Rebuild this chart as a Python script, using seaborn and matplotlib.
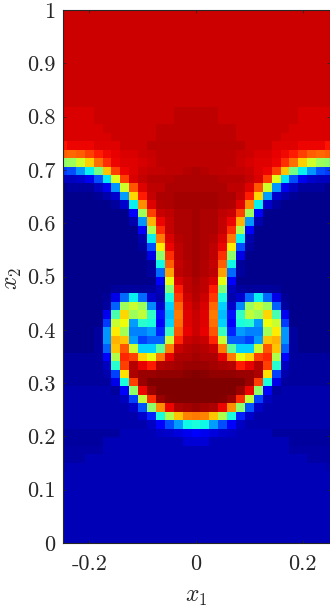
"""
Rayleigh-Taylor density field, coarse grid, jet colours.
"""
import numpy as np
import matplotlib
matplotlib.use('Agg')
import matplotlib.pyplot as plt
import seaborn as sns

D = 1.5   # deep blue far field
T = 93.2  # top layer
BL = 4.9  # bottom layer blue

# left half of the field (centre column last), rows from x2=1 down to x2=0, jet scale 0-100
upper_rows = [[T] * 16] * 12 + [
    [92, 92, 92, 92, 93, 93, 93, 93, 93, 93, 93, 93, 93, 94.5, 94.5, 94.5],
    [92, 92, 92, 92, 93, 93, 93, 93, 93, 93, 93, 93, 93, 94.5, 94.5, 94.5],
    [92, 92, 92, 92, 92, 93, 93, 93, 93, 93, 93, 94.5, 94.5, 94.5, 94.5, 94.5],
    [92, 92, 92, 92, 92, 92, 93, 93, 93, 93, 93, 94.5, 94.5, 94.5, 94.5, 94.5],
    [89, 90.5, 90.5, 90.5, 91.5, 91.5, 91.5, 93, 93, 93, 94.8, 94.8, 94.8, 94.8, 94.8, 94.8],
    [81, 80, 81, 84, 88, 90, 91, 92, 92, 93, 93.5, 94.5, 94.5, 94.5, 94.5, 94.5],
    [52, 54, 60, 69, 79, 86, 90.5, 91.5, 91.5, 92.5, 93, 94.5, 94.5, 94.5, 94.5, 94.5],
    [18, 20, 27, 36, 49, 70, 84, 90.5, 91.5, 93, 94, 94, 94.5, 94.5, 95, 96],
    [5.6, 5.6, 7, 10, 20, 35, 62, 84, 92, 94, 95, 95, 95, 96, 96, 96],
    [D, 2.8, 2.8, 2.8, 5.6, 10, 27, 60, 82, 91.5, 94.5, 94.5, 96, 96, 96, 96],
    [D, D, D, D, 2, 4.2, 7, 28, 68, 88, 94, 96, 96, 96.5, 96.5, 96.5],
    [D, D, D, D, D, D, 3, 7, 36, 76, 91.5, 95.5, 96, 96.5, 96.5, 96.5],
    [D, D, D, D, D, D, D, D, 11, 54, 84, 93.5, 94.5, 96, 96, 96.5],
    [D, D, D, D, D, D, D, D, 4.2, 27, 72, 90.5, 94, 96, 96, 96.5],
    [D, D, D, D, D, D, D, D, D, 11, 56, 86, 94, 96, 96, 96.5],
    [D, D, D, D, D, D, D, D, D, 4.2, 36, 78, 92, 95, 96, 96.5],
    [D, D, D, D, D, D, D, D, D, 2.8, 20, 66, 90.5, 94.5, 96, 96.5],
    [D, D, D, D, D, D, D, D, D, D, 9, 52, 86, 94.5, 96, 96.5],
    [D, D, D, D, D, D, D, D, D, D, 2.5, 37, 81, 94, 95.5, 96.5],
    [D, D, D, D, D, D, D, D, D, D, 2.8, 23, 74, 94.5, 95.5, 96.5],
    [D, D, D, D, D, D, D, D, D, D, D, 11, 63, 92, 94.5, 96],
    [D, D, D, D, D, D, 2.5, 3, 3, 2.5, 2.8, 5.6, 51, 88, 94.5, 95.5],
]
lower_rows = [
    [D, D, D, D, D, 2, 9, 23, 36, 23, 7, 4.2, 38, 85, 93, 95],
    [D, D, D, D, D, 2.8, 22, 54, 59, 54, 26, 7, 33, 80, 92, 94.5],
    [D, D, D, D, D, 10, 44, 68, 54, 58, 41, 14, 31, 78, 91.5, 93.6],
    [D, D, D, D, 1.5, 18, 59, 64, 28, 40, 38, 12, 33, 79, 91.5, 93.2],
    [D, D, D, D, 2.8, 27, 66, 55, 25, 25, 28, 16, 42, 82, 91, 93.2],
    [D, D, D, D, 2.8, 27, 72, 70, 28, 19, 22, 22, 59, 87, 93.6, 94.5],
    [D, D, D, D, 2.8, 22, 70, 82, 59, 33, 33, 46, 78, 93.6, 95.2, 96],
    [2.8, 2.8, 2.8, 2.8, 2.8, 11, 56, 87, 84, 68, 63, 78, 91, 96, 96, 96.7],
    [2.8, 2.8, 2.8, 2.8, 2.8, 5.6, 40, 84, 95, 91, 88, 95, 96, 96.7, 97.5, 97.5],
    [2.8, 2.8, 2.8, 2.8, 2.8, 4.2, 19, 67, 96, 97.5, 97.5, 98.2, 98.2, 98.2, 99, 99.5],
    [2.8, 2.8, 2.8, 2.8, 2.8, 2.8, 9, 38, 84, 97.5, 100, 100, 100, 100, 100, 100],
    [4.2, 4.2, 4.2, 4.2, 4.2, 4.2, 2.8, 12, 52, 90.5, 97.5, 100, 100, 100, 100, 100],
    [4.2, 4.2, 4.2, 4.2, 4.2, 4.2, 4.2, 5.6, 19, 58, 86, 97.5, 99.5, 100, 100, 100],
    [4.2, 4.2, 4.2, 4.2, 4.2, 4.2, 4.2, 4.2, 6.5, 21, 52, 76, 90.5, 96, 96.7, 97.5],
    [4.2, 4.2, 4.2, 4.2, 4.2, 4.2, 4.2, 4.2, 4.2, 7, 16, 38, 56, 70, 77, 78],
    [4.2, 4.2, 4.2, 4.2, 4.2, 4.2, 4.2, 4.2, 4.2, 4.2, 6, 11, 20, 28, 37, 38],
    [2.8, 2.8, 2.8, 2.8, 2.8, 2.8, 2.8, BL, BL, BL, BL, 6, 7, 8.4, 9.8, 11],
    [2.8, 2.8, 2.8, 2.8, 2.8, BL, BL, BL, BL, BL, BL, BL, BL, BL, 7.5, 7.5],
    [3.5, 3.5, 3.5, 3.5, 3.5, BL, BL, BL, BL, BL, BL, BL, BL, BL, BL, BL],
    [3.5, 3.5, 3.5, BL, BL, BL, BL, BL, BL, BL, BL, BL, BL, BL, BL, BL],
    [4.2, BL, BL, BL, BL, BL, BL, BL, BL, BL, BL, BL, BL, BL, BL, BL],
] + [[BL] * 16] * 9

half_field = np.array(upper_rows + lower_rows, dtype=float)
field = np.hstack([half_field, half_field[:, -2::-1]])

x_ticks = [-0.2, 0, 0.2]
x_tick_labels = ['-0.2', '0', '0.2']
y_ticks = [0, 0.1, 0.2, 0.3, 0.4, 0.5, 0.6, 0.7, 0.8, 0.9, 1]
y_tick_labels = ['0', '0.1', '0.2', '0.3', '0.4', '0.5', '0.6', '0.7', '0.8', '0.9', '1']

W, H = 330, 607
n_rows, n_cols = field.shape

plt.rcParams['mathtext.fontset'] = 'cm'
plt.rcParams['axes.unicode_minus'] = False

fig = plt.figure(figsize=(W / 100, H / 100), dpi=100)
ax = fig.add_axes([62.5 / W, 1 - 543 / H, 267 / W, 533 / H])

sns.heatmap(field, cmap='jet', vmin=0, vmax=100, cbar=False, ax=ax,
            xticklabels=False, yticklabels=False)

# nodes sit on the domain edges, so the outer cells are cut in half
ax.set_xlim(0.5, n_cols - 0.5)
ax.set_ylim(n_rows - 0.5, 0.5)

ax.set_xticks([(x + 0.25) * 2 * (n_cols - 1) + 0.5 for x in x_ticks])
ax.set_xticklabels(x_tick_labels, fontfamily='cmr10', fontsize=16)
ax.set_yticks([(1 - y) * (n_rows - 1) + 0.5 for y in y_ticks])
ax.set_yticklabels(y_tick_labels, fontfamily='cmr10', fontsize=16)
ax.tick_params(direction='in', length=2, width=0.5, color='#262626', labelcolor='#262626',
               top=True, right=True)
ax.tick_params(axis='x', pad=8)
ax.tick_params(axis='y', pad=5)
for spine in ax.spines.values():
    spine.set_visible(True)
    spine.set_linewidth(0.8)
    spine.set_color('#262626')

ax.set_xlabel(r'$x_1$', fontsize=17, color='#262626', labelpad=7.5)
ax.set_ylabel(r'$x_2$', fontsize=17, color='#262626', labelpad=2.5, y=0.497)

plt.savefig('out.png', dpi=100)
plt.close()
